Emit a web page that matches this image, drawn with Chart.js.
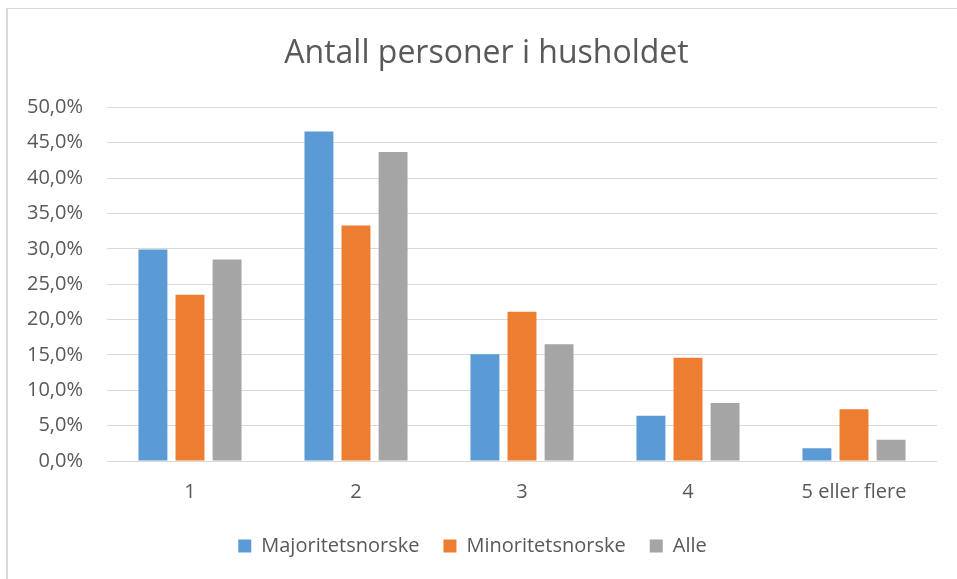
<!DOCTYPE html>
<html>
<head>
<meta charset="utf-8">
<script src="https://cdn.jsdelivr.net/npm/chart.js@4/dist/chart.umd.min.js"></script>
<style>
  html, body { margin: 0; padding: 0; background: #fff; }
  #wrap {
    position: absolute; left: 6px; top: 8px;
    width: 949px; height: 570px;
    border-left: 2px solid #d9d9d9; border-top: 1px solid #d9d9d9;
  }
</style>
</head>
<body>
<div id="wrap"><canvas id="chart" width="949" height="570"></canvas></div>
<script>
var categories = ['1', '2', '3', '4', '5 eller flere'];
var majoritet = [29.9, 46.6, 15.1, 6.4, 1.8];
var minoritet = [23.5, 33.3, 21.1, 14.6, 7.3];
var alle = [28.5, 43.7, 16.5, 8.2, 3.0];
var yTicks = [0, 5, 10, 15, 20, 25, 30, 35, 40, 45, 50];

// the title sits a bit right of the legend centre in the original
var titleShift = {
    id: 'titleShift',
    afterLayout: function (chart) {
        if (chart.titleBlock) chart.titleBlock.left += 28;
    }
};

document.addEventListener("DOMContentLoaded", function () {
    Chart.defaults.font.family = '"Open Sans", Lato, sans-serif';
    Chart.defaults.color = '#595959';

    var ctx = document.getElementById('chart').getContext('2d');
    var chart = new Chart(ctx, {
        type: 'bar',
        data: {
            labels: categories,
            datasets: [{
                label: 'Majoritetsnorske',
                data: majoritet,
                backgroundColor: '#5b9bd5'
            }, {
                label: 'Minoritetsnorske',
                data: minoritet,
                backgroundColor: '#ed7d31'
            }, {
                label: 'Alle',
                data: alle,
                backgroundColor: '#a5a5a5'
            }]
        },
        options: {
            responsive: false,
            animation: false,
            categoryPercentage: 0.67,
            barPercentage: 0.78,
            layout: { padding: { left: 0, right: 20, top: 0, bottom: 13 } },
            plugins: {
                title: {
                    display: true,
                    text: 'Antall personer i husholdet',
                    color: '#595959',
                    font: { size: 32, weight: 'normal' },
                    padding: { top: 26, bottom: 34 }
                },
                legend: {
                    position: 'bottom',
                    labels: {
                        boxWidth: 13,
                        boxHeight: 13,
                        padding: 24,
                        color: '#595959',
                        font: { size: 20 }
                    }
                },
                tooltip: { enabled: false }
            },
            scales: {
                x: {
                    afterFit: function (scale) { scale.height = scale.height - 11; },
                    grid: { display: false, drawTicks: false },
                    border: { display: false },
                    ticks: { padding: 19, font: { size: 20 }, color: '#595959' }
                },
                y: {
                    min: 0,
                    max: 50,
                    afterFit: function (scale) { scale.width = 99; },
                    afterBuildTicks: function (scale) {
                        scale.ticks = yTicks.map(function (v) { return { value: v }; });
                    },
                    grid: { color: '#d9d9d9', lineWidth: 1, drawTicks: false },
                    border: { display: false },
                    ticks: {
                        padding: 24,
                        font: { size: 20 },
                        color: '#595959',
                        callback: function (v) { return v.toFixed(1).replace('.', ',') + '%'; }
                    }
                }
            }
        },
        plugins: [titleShift]
    });
});
</script>
</body>
</html>
